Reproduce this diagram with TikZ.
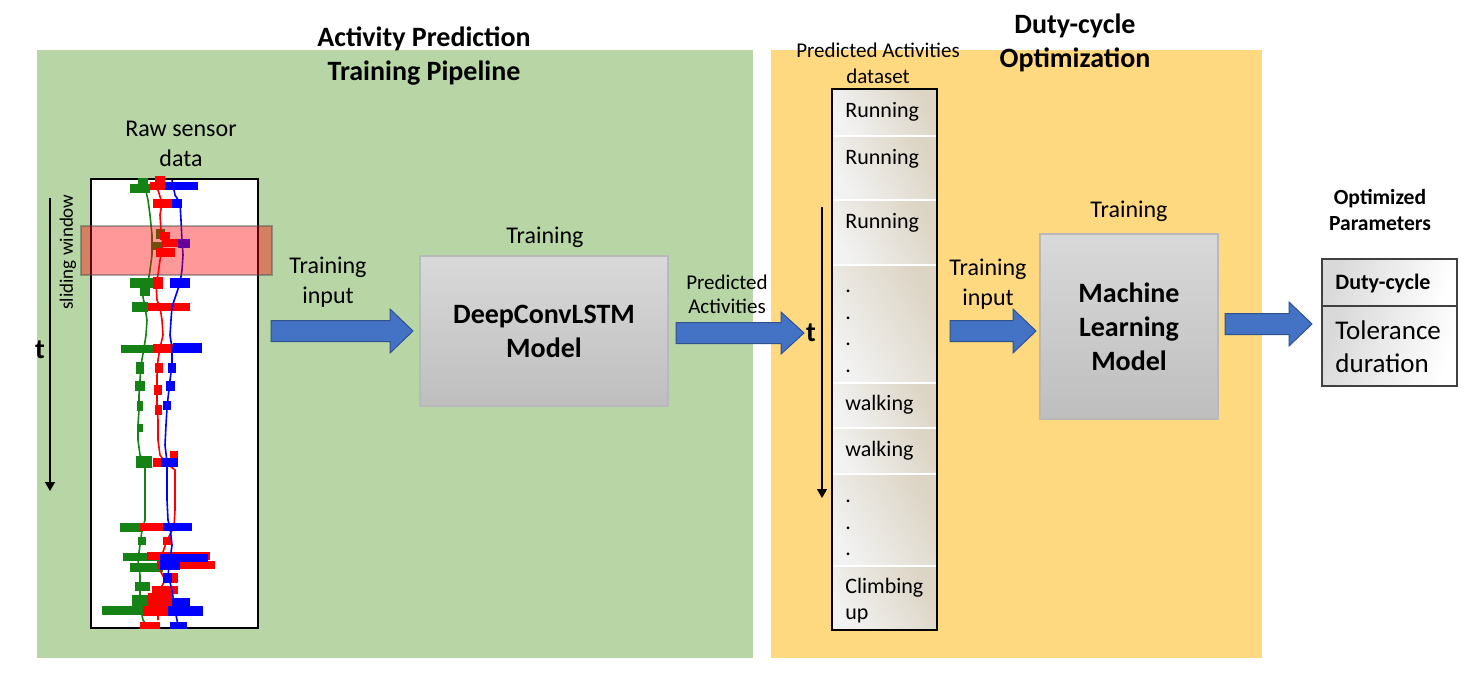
\documentclass[tikz,border=0pt]{standalone}
\usepackage{fontspec}
\setmainfont{Carlito}
\usetikzlibrary{arrows.meta}
\definecolor{panelgreen}{RGB}{184,214,165}
\definecolor{panelyellow}{RGB}{255,217,128}
\definecolor{arrowblue}{RGB}{68,114,196}
\definecolor{arrowedge}{RGB}{47,82,143}
\definecolor{sgreen}{RGB}{20,130,20}
\definecolor{sred}{RGB}{255,0,0}
\definecolor{sblue}{RGB}{0,0,255}
\definecolor{boxtop}{RGB}{217,217,217}
\definecolor{boxbot}{RGB}{190,190,190}
\definecolor{boxedge}{RGB}{185,185,185}
\definecolor{tanc}{RGB}{220,212,196}
\newcommand\blockarrow[4]{\filldraw[barrow] (#1,#3-10.5) -- (#2-23,#3-10.5) -- (#2-23,#3-#4) -- (#2,#3) -- (#2-23,#3+#4) -- (#2-23,#3+10.5) -- (#1,#3+10.5) -- cycle;}
\tikzset{
 lbl/.style={font=\fontsize{12}{15}\selectfont, align=center, inner sep=0pt},
 headtxt/.style={font=\bfseries\fontsize{14}{17}\selectfont, align=center, inner sep=0pt},
 smalltxt/.style={font=\fontsize{10.5}{12.8}\selectfont, align=center, inner sep=0pt},
 celltext/.style={font=\fontsize{11}{13}\selectfont, anchor=base west, inner sep=0pt},
 barrow/.style={fill=arrowblue, draw=arrowedge, line width=0.5pt},
 modelbox/.style={draw=boxedge, line width=0.6pt, top color=boxtop, bottom color=boxbot, font=\bfseries\fontsize{14}{17}\selectfont, align=center, inner sep=0pt},
 tarrow/.style={line width=0.7pt, -{Triangle[length=4.5pt,width=5pt]}},
 cellshade/.style={left color=gray!10, middle color=white, right color=tanc, shading angle=120, draw=white, line width=0.8pt},
 prow/.style={left color=gray!30, right color=white, shading angle=70, draw=black!75, line width=0.7pt, inner sep=0pt, minimum width=67.5pt},
 trace/.style={line width=0.8pt},
}
\begin{document}
\begin{tikzpicture}[x=0.5pt,y=-0.5pt]
\fill[white] (0,0) rectangle (1467,691);
\useasboundingbox (0,0) rectangle (1467,691);
% panels
\fill[panelgreen] (37,50) rectangle (753,658);
\fill[panelyellow] (771,50) rectangle (1262,658);
\node[headtxt] (h1) at (424,56) {Activity Prediction\\Training Pipeline};
\node[headtxt] (h2) at (1075,43) {Duty-cycle\\Optimization};
% raw sensor data
\node[lbl] (rawlbl) at (181,144) {Raw sensor\\data};
\node[draw, line width=0.6pt, fill=white, minimum width=83.5pt, minimum height=224.5pt, inner sep=0pt] (plot) at (174.5,403.5) {};
% green trace
\draw[sgreen, trace] plot coordinates {(143,180) (145,187) (148,200) (150,215) (152,235) (152,255) (150,270) (148,283) (142,292) (145,307) (147,320) (146,335) (144,348) (141,365) (140,380) (139,395) (139,410) (138,425) (138,440) (140,455) (145,462) (145,480) (145,500) (145,520) (142,530) (140,545) (138,560) (140,575) (140,590) (140,605) (143,620) (148,627)};
\foreach \a/\b/\c/\h in {130/150/188/9, 138/148/182/8, 156/165/234/10, 152/162/246/8, 130/155/283/10, 140/150/292/8, 132/148/307/10, 121/153/349/8, 136/144/368/12, 135/145/386/10, 137/143/406/10, 137/143/428/8, 136/152/462/12, 120/143/527/9, 138/146/541/8, 123/160/557/8, 130/163/567/9, 135/150/586/9, 102/147/610/9, 132/152/604/18, 142/155/625/7}
  \fill[sgreen] (\a,\c-\h/2) rectangle (\b,\c+\h/2);
% red trace
\draw[sred, trace] plot coordinates {(157,180) (158,190) (162,203) (160,215) (161,230) (163,245) (160,260) (158,275) (156,283) (157,300) (160,307) (162,320) (163,335) (160,348) (158,360) (157,375) (157,390) (157,405) (158,420) (158,440) (160,455) (165,462) (175,470) (175,490) (175,510) (174,527) (167,540) (162,555) (160,570) (165,580) (160,590) (158,605) (158,620)};
\foreach \a/\b/\c/\h in {150/187/186/8, 155/165/181/10, 153/180/203/9, 160/170/236/8, 162/180/243/8, 156/175/252/9, 153/163/283/12, 148/190/307/8, 153/173/348/9, 155/163/368/10, 154/162/390/10, 155/162/410/10, 153/175/462/9, 170/178/455/8, 140/177/527/8, 163/171/541/8, 147/210/556/8, 157/215/565/8, 165/178/578/10, 152/178/590/8, 143/182/611/10, 148/172/603/20, 140/160/625/7}
  \fill[sred] (\a,\c-\h/2) rectangle (\b,\c+\h/2);
% blue trace
\draw[sblue, trace] plot coordinates {(172,180) (175,195) (180,203) (181,220) (182,240) (183,255) (182,270) (180,283) (176,295) (172,307) (171,320) (170,335) (172,348) (172,365) (170,380) (168,398) (167,408) (166,425) (165,445) (167,462) (167,480) (167,500) (168,520) (170,527) (172,545) (170,560) (168,575) (172,590) (175,610) (178,625)};
\foreach \a/\b/\c/\h in {165/198/186/8, 172/182/203/9, 178/190/243/9, 170/190/283/10, 173/202/348/10, 168/176/368/10, 166/175/386/10, 163/171/405/9, 161/178/462/9, 163/192/527/8, 160/208/558/8, 160/180/566/8, 163/172/578/10, 168/203/611/10, 172/190/604/12, 170/187/625/7}
  \fill[sblue] (\a,\c-\h/2) rectangle (\b,\c+\h/2);
% sliding window overlay
\filldraw[fill=red, fill opacity=0.4, draw=black!70, draw opacity=0.45, line width=1pt] (81,226) rectangle (272,275);
\node[font=\fontsize{9.5}{11}\selectfont, rotate=90, inner sep=0pt] (sw) at (68,252) {sliding window};
\coordinate (ta1) at (50,198);
\coordinate (ta2) at (50,491);
\draw[tarrow] (ta1) -- (ta2);
\node[font=\bfseries\fontsize{14}{16}\selectfont, inner sep=0pt] (t1) at (40,350) {t};
% training input 1
\node[lbl] (ti1) at (328,282) {Training\\input};
\blockarrow{271}{413}{331}{22}
% DeepConvLSTM
\node[lbl] (tr1) at (545,237) {Training};
\node[modelbox, minimum width=124pt, minimum height=75pt] (deep) at (544,331) {DeepConvLSTM\\Model};
% predicted activities arrow
\node[smalltxt, font=\fontsize{10.5}{12}\selectfont] (pa) at (727,294) {Predicted\\Activities};
\blockarrow{676}{804}{333}{21}
\node[font=\bfseries\fontsize{14}{16}\selectfont, inner sep=0pt] (t2) at (811,333) {t};
\coordinate (tb1) at (822,207);
\coordinate (tb2) at (822,498);
\draw[tarrow] (tb1) -- (tb2);
% dataset
\node[smalltxt, font=\fontsize{10.5}{13}\selectfont] (dsl) at (878,63) {Predicted Activities\\dataset};
\foreach \ya/\yb in {89/136, 136/200, 200/265, 265/383, 383/428, 428/474, 474/566, 566/630}
  \shade[cellshade] (832,\ya) rectangle (937,\yb);
\draw[line width=0.9pt] (832,89) rectangle (937,630);
\node[celltext] (c1) at (845,117) {Running};
\node[celltext] (c2) at (845,164) {Running};
\node[celltext] (c3) at (845,228) {Running};
\node[celltext] (d1) at (845,292) {.};
\node[celltext] (d2) at (845,319) {.};
\node[celltext] (d3) at (845,345) {.};
\node[celltext] (d4) at (845,372) {.};
\node[celltext] (c4) at (845,410) {walking};
\node[celltext] (c5) at (845,456) {walking};
\node[celltext] (d5) at (845,502) {.};
\node[celltext] (d6) at (845,529) {.};
\node[celltext] (d7) at (845,555) {.};
\node[celltext] (c6) at (845,593) {Climbing};
\node[celltext] (c7) at (845,619) {up};
% training input 2
\node[lbl] (ti2) at (988,284) {Training\\input};
\blockarrow{950}{1036}{331}{22}
\node[lbl] (tr2) at (1129,211) {Training};
\node[modelbox, minimum width=89pt, minimum height=92.5pt] (ml) at (1129,326.5) {Machine\\Learning\\Model};
% output arrow
\blockarrow{1225}{1312}{324}{22}
\node[font=\bfseries\fontsize{10.8}{13}\selectfont, align=center, inner sep=0pt] (op) at (1380,210) {Optimized\\Parameters};
\node[prow, minimum height=23.5pt] (r1) at (1389.5,282.5) {};
\node[prow, minimum height=40pt] (r2) at (1389.5,346) {};
\node[font=\bfseries\fontsize{11}{13}\selectfont, anchor=base west, inner sep=0pt] (dc) at (1335,289) {Duty-cycle};
\node[font=\fontsize{13.5}{16}\selectfont, anchor=base west, inner sep=0pt] (tol1) at (1335,339) {Tolerance};
\node[font=\fontsize{13.5}{16}\selectfont, anchor=base west, inner sep=0pt] (tol2) at (1335,372) {duration};
\end{tikzpicture}
\end{document}
